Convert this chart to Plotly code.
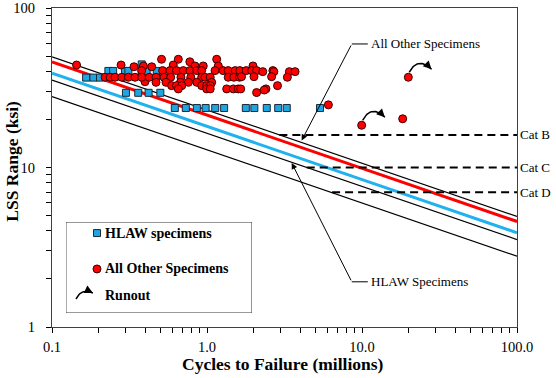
import numpy as np
import plotly.graph_objects as go

SERIF = "Liberation Serif, Times New Roman, serif"

# ---------------- data ----------------
# HLAW specimens (cycles in millions, LSS range in ksi)
hlaw_cycles = [0.62, 0.73, 0.86, 0.98, 1.13, 1.29, 1.78, 2.02, 2.43, 2.88, 3.27, 5.36,
               0.30, 0.36, 0.42, 0.50,
               0.166, 0.185, 0.204,
               0.231, 0.248, 0.296, 0.311, 0.379, 0.408, 0.474,
               0.379]
hlaw_stress = [23.6] * 12 + [29.4] * 4 + [36.6] * 3 + [40.3] * 7 + [44.3]

# All other specimens (failures)
other_cycles = [0.144, 0.279, 0.338, 0.389, 0.440, 0.379, 0.398,
                0.220, 0.237, 0.255, 0.282, 0.311, 0.343, 0.379, 0.424,
                0.509, 0.653, 0.775, 1.155,
                0.606, 0.837, 0.946, 1.183,
                0.517, 0.577, 0.636, 0.703, 0.775, 0.859, 0.924, 1.127, 1.27, 1.37, 1.52, 1.63,
                0.469, 0.528, 0.583, 0.679, 0.786, 0.924, 0.970, 1.049, 1.37, 1.49, 1.62,
                0.469, 0.544, 0.675, 0.759, 0.859, 1.072,
                0.591, 0.636, 0.687, 0.924, 0.995, 1.049,
                0.653, 0.995, 1.049, 1.34, 1.48, 1.59,
                1.67, 1.79, 1.98, 1.94, 2.09, 2.29, 2.01, 2.66, 2.70, 2.61, 3.40, 3.70, 3.30,
                2.85, 2.40, 2.34, 2.09, 1.65,
                6.07, 18.3]
other_stress = [43.9, 43.9, 42.8, 43.3, 42.8, 40.5, 34.5,
                36.8, 36.8, 36.8, 36.8, 36.8, 36.8, 36.8, 36.8,
                47.7, 47.7, 46.0, 47.7,
                43.9, 43.3, 43.3, 43.3,
                40.5, 40.5, 40.5, 40.5, 40.5, 40.5, 40.5, 40.5, 40.5, 40.5, 40.5, 40.5,
                36.8, 36.8, 36.8, 36.8, 36.8, 36.8, 36.8, 36.8, 36.8, 36.8, 36.8,
                34.2, 34.2, 34.2, 34.2, 34.2, 34.2,
                32.6, 32.6, 32.6, 32.6, 32.6, 32.6,
                31.1, 31.1, 31.1, 31.1, 31.1, 31.1,
                37.1, 40.5, 43.3, 40.5, 40.5, 39.9, 37.1, 40.5, 39.9, 37.1, 39.9, 39.9, 36.8,
                32.6, 31.1, 30.6, 29.5, 31.1,
                24.7, 20.2]

# All other specimens that ran out
runout_cycles = [19.9, 9.95]
runout_stress = [36.8, 18.4]

# S-N lines: stress range (ksi) at 1 million cycles, slope -1/3 (m = 3)
sn_coef = [22.9, 21.3, 18.1, 16.4, 12.9]
sn_slope = 1.0 / 3.0
sn_span = [0.1, 100.0]

# AASHTO detail categories: constant A (ksi^3 * cycles) and CAFL (ksi)
cat_names = ["Cat B", "Cat C", "Cat D"]
cat_A = [120e8, 44e8, 22e8]
cat_cafl = [16.0, 10.0, 7.0]

x_major = [0.1, 1, 10, 100]
x_major_text = ["0.1", "1.0", "10.0", "100.0"]
y_major = [1, 10, 100]
y_major_text = ["1", "10", "100"]

# ---------------- styles ----------------
sn_colors = ["#000000", "#ff0000", "#1fb2ee", "#000000", "#000000"]
sn_widths = [1.2, 3, 3, 1.2, 1.2]
BLUE_FILL = "#1ea6e0"
RED_FILL = "#ff0000"


def sn(c, n):
    return c * np.asarray(n, dtype=float) ** (-sn_slope)


fig = go.Figure()

# S-N lines (black first, colored on top)
order = [0, 3, 4, 1, 2]
for i in order:
    fig.add_trace(go.Scatter(x=sn_span, y=sn(sn_coef[i], sn_span), mode="lines",
                             line=dict(color=sn_colors[i], width=sn_widths[i]),
                             showlegend=False, hoverinfo="skip"))

# CAFL dashed lines
for name, A, cafl in zip(cat_names, cat_A, cat_cafl):
    n_start = A / cafl ** 3 / 1e6
    fig.add_trace(go.Scatter(x=[n_start, sn_span[1]], y=[cafl, cafl], mode="lines",
                             line=dict(color="#000000", width=2, dash="8px,5px"),
                             showlegend=False, hoverinfo="skip"))
    fig.add_annotation(x=1, xref="paper", xanchor="left", xshift=1,
                       y=np.log10(cafl), yref="y", yanchor="middle",
                       text=name, showarrow=False,
                       font=dict(family=SERIF, size=13, color="#000"))

# data markers
fig.add_trace(go.Scatter(x=hlaw_cycles, y=hlaw_stress, mode="markers",
                         marker=dict(symbol="square", size=7, color=BLUE_FILL,
                                     line=dict(color="#1a2a3a", width=1)),
                         name="HLAW specimens", showlegend=False))
fig.add_trace(go.Scatter(x=other_cycles + runout_cycles, y=other_stress + runout_stress,
                         mode="markers",
                         marker=dict(symbol="circle", size=8, color=RED_FILL,
                                     line=dict(color="#3a0000", width=1)),
                         name="All Other Specimens", showlegend=False))

# runout arcs (quadratic Bezier in log space, relative to each runout point)
arc_dx = [0.006, 0.061, 0.150]
arc_dy = [0.031, 0.132, 0.050]
t = np.linspace(0, 1, 25)


def bez(p, t):
    return (1 - t) ** 2 * p[0] + 2 * (1 - t) * t * p[1] + t ** 2 * p[2]


for n, s in zip(runout_cycles, runout_stress):
    lx = np.log10(n) + bez(arc_dx, t)
    ly = np.log10(s) + bez(arc_dy, t)
    fig.add_trace(go.Scatter(x=10 ** lx, y=10 ** ly, mode="lines",
                             line=dict(color="#000", width=1.5),
                             showlegend=False, hoverinfo="skip"))
    fig.add_annotation(x=lx[-1], y=ly[-1], xref="x", yref="y", text="",
                       showarrow=True, ax=-5, ay=-5, arrowhead=2, arrowsize=1.1,
                       arrowwidth=1.5, arrowcolor="#000")

# leader annotations
tip1_n = 4.08
tip1 = (np.log10(tip1_n), np.log10(sn(sn_coef[0], tip1_n) * 1.03))
elbow1 = (8.59, 59.5)
fig.add_annotation(x=tip1[0], y=tip1[1], xref="x", yref="y",
                   ax=np.log10(elbow1[0]), ay=np.log10(elbow1[1]), axref="x", ayref="y",
                   text="", showarrow=True, arrowhead=2, arrowsize=1.2, arrowwidth=1,
                   arrowcolor="#000")
fig.add_trace(go.Scatter(x=[elbow1[0], 10.9], y=[elbow1[1], elbow1[1]], mode="lines",
                         line=dict(color="#000", width=1), showlegend=False, hoverinfo="skip"))
fig.add_annotation(x=np.log10(11.1), y=np.log10(elbow1[1]), xref="x", yref="y",
                   xanchor="left", yanchor="middle", text="All Other Specimens",
                   showarrow=False, font=dict(family=SERIF, size=13, color="#000"))

tip2_n = 3.52
tip2 = (np.log10(tip2_n), np.log10(sn(sn_coef[3], tip2_n) * 0.99))
elbow2 = (8.59, 1.92)
fig.add_annotation(x=tip2[0], y=tip2[1], xref="x", yref="y",
                   ax=np.log10(elbow2[0]), ay=np.log10(elbow2[1]), axref="x", ayref="y",
                   text="", showarrow=True, arrowhead=2, arrowsize=1.2, arrowwidth=1,
                   arrowcolor="#000")
fig.add_trace(go.Scatter(x=[elbow2[0], 10.9], y=[elbow2[1], elbow2[1]], mode="lines",
                         line=dict(color="#000", width=1), showlegend=False, hoverinfo="skip"))
fig.add_annotation(x=np.log10(11.1), y=np.log10(elbow2[1]), xref="x", yref="y",
                   xanchor="left", yanchor="middle", text="HLAW Specimens",
                   showarrow=False, font=dict(family=SERIF, size=13, color="#000"))

# ---------------- custom legend (overlay axes x2/y2) ----------------
leg_font = dict(family=SERIF, size=14, color="#000")
fig.add_trace(go.Scatter(x=[0.167], y=[0.879], xaxis="x2", yaxis="y2", mode="markers",
                         marker=dict(symbol="square", size=7, color=BLUE_FILL,
                                     line=dict(color="#1a2a3a", width=1)),
                         showlegend=False, hoverinfo="skip"))
fig.add_trace(go.Scatter(x=[0.167], y=[0.484], xaxis="x2", yaxis="y2", mode="markers",
                         marker=dict(symbol="circle", size=8, color=RED_FILL,
                                     line=dict(color="#3a0000", width=1)),
                         showlegend=False, hoverinfo="skip"))
leg_px = [0.054, 0.0825, 0.145]
leg_py = [0.154, 0.275, 0.22]
fig.add_trace(go.Scatter(x=bez(leg_px, t), y=bez(leg_py, t), xaxis="x2", yaxis="y2",
                         mode="lines", line=dict(color="#000", width=1.5),
                         showlegend=False, hoverinfo="skip"))
fig.add_annotation(x=leg_px[2], y=leg_py[2], xref="x2", yref="y2", text="",
                   showarrow=True, ax=-6, ay=-3, arrowhead=2, arrowsize=1.1,
                   arrowwidth=1.5, arrowcolor="#000")
for label, yy in zip(["HLAW specimens", "All Other Specimens", "Runout"],
                     [0.879, 0.484, 0.187]):
    fig.add_annotation(x=0.200, y=yy, xref="x2", yref="y2", xanchor="left",
                       yanchor="middle", text="<b>%s</b>" % label, showarrow=False,
                       font=leg_font)
fig.add_shape(type="rect", xref="x2", yref="y2", x0=0, x1=1, y0=0, y1=1,
              line=dict(color="#404040", width=1), fillcolor="rgba(0,0,0,0)")

# ---------------- axes ----------------
x_minor = [m * d for d in [0.1, 1, 10] for m in range(2, 10)]
y_minor = [m * d for d in [1, 10] for m in range(2, 10)]
xt = x_major + x_minor
xtt = x_major_text + [""] * len(x_minor)
yt = y_major + y_minor
ytt = y_major_text + [""] * len(y_minor)

tick_font = dict(family=SERIF, size=14.5, color="#000")
fig.update_layout(
    template="none",
    width=556, height=378,
    margin=dict(l=52, r=39, t=8, b=51, autoexpand=False),
    paper_bgcolor="white", plot_bgcolor="white",
    showlegend=False,
    xaxis=dict(type="log", range=[-1, 2], tickvals=xt, ticktext=xtt,
               ticks="outside", ticklen=5, tickcolor="#000", tickwidth=1,
               showline=True, linecolor="#404040", linewidth=1, mirror=True,
               showgrid=False, zeroline=False, tickfont=tick_font,
               ticklabelstandoff=2, automargin=False),
    yaxis=dict(type="log", range=[0, 2], tickvals=yt, ticktext=ytt,
               ticks="outside", ticklen=5, tickcolor="#000", tickwidth=1,
               showline=True, linecolor="#404040", linewidth=1, mirror=True,
               showgrid=False, zeroline=False, tickfont=tick_font,
               ticklabelstandoff=8, automargin=False),
    xaxis2=dict(domain=[0.030, 0.430], range=[0, 1], visible=False, anchor="y2",
                fixedrange=True),
    yaxis2=dict(domain=[0.044, 0.329], range=[0, 1], visible=False, anchor="x2",
                fixedrange=True),
)

# axis titles
fig.add_annotation(x=0.4957, y=-0.116, xref="paper", yref="paper",
                   text="<b>Cycles to Failure (millions)</b>", showarrow=False,
                   xanchor="center", yanchor="middle",
                   font=dict(family=SERIF, size=17.5, color="#000"))
fig.add_annotation(x=-0.0849, y=0.52, xref="paper", yref="paper",
                   text="<b>LSS Range (ksi)</b>", showarrow=False, textangle=-90,
                   xanchor="center", yanchor="middle",
                   font=dict(family=SERIF, size=17.5, color="#000"))

fig.write_html("out.html", config={"displayModeBar": False},
               post_script="document.body.style.margin='0px';document.body.style.padding='0px';")
